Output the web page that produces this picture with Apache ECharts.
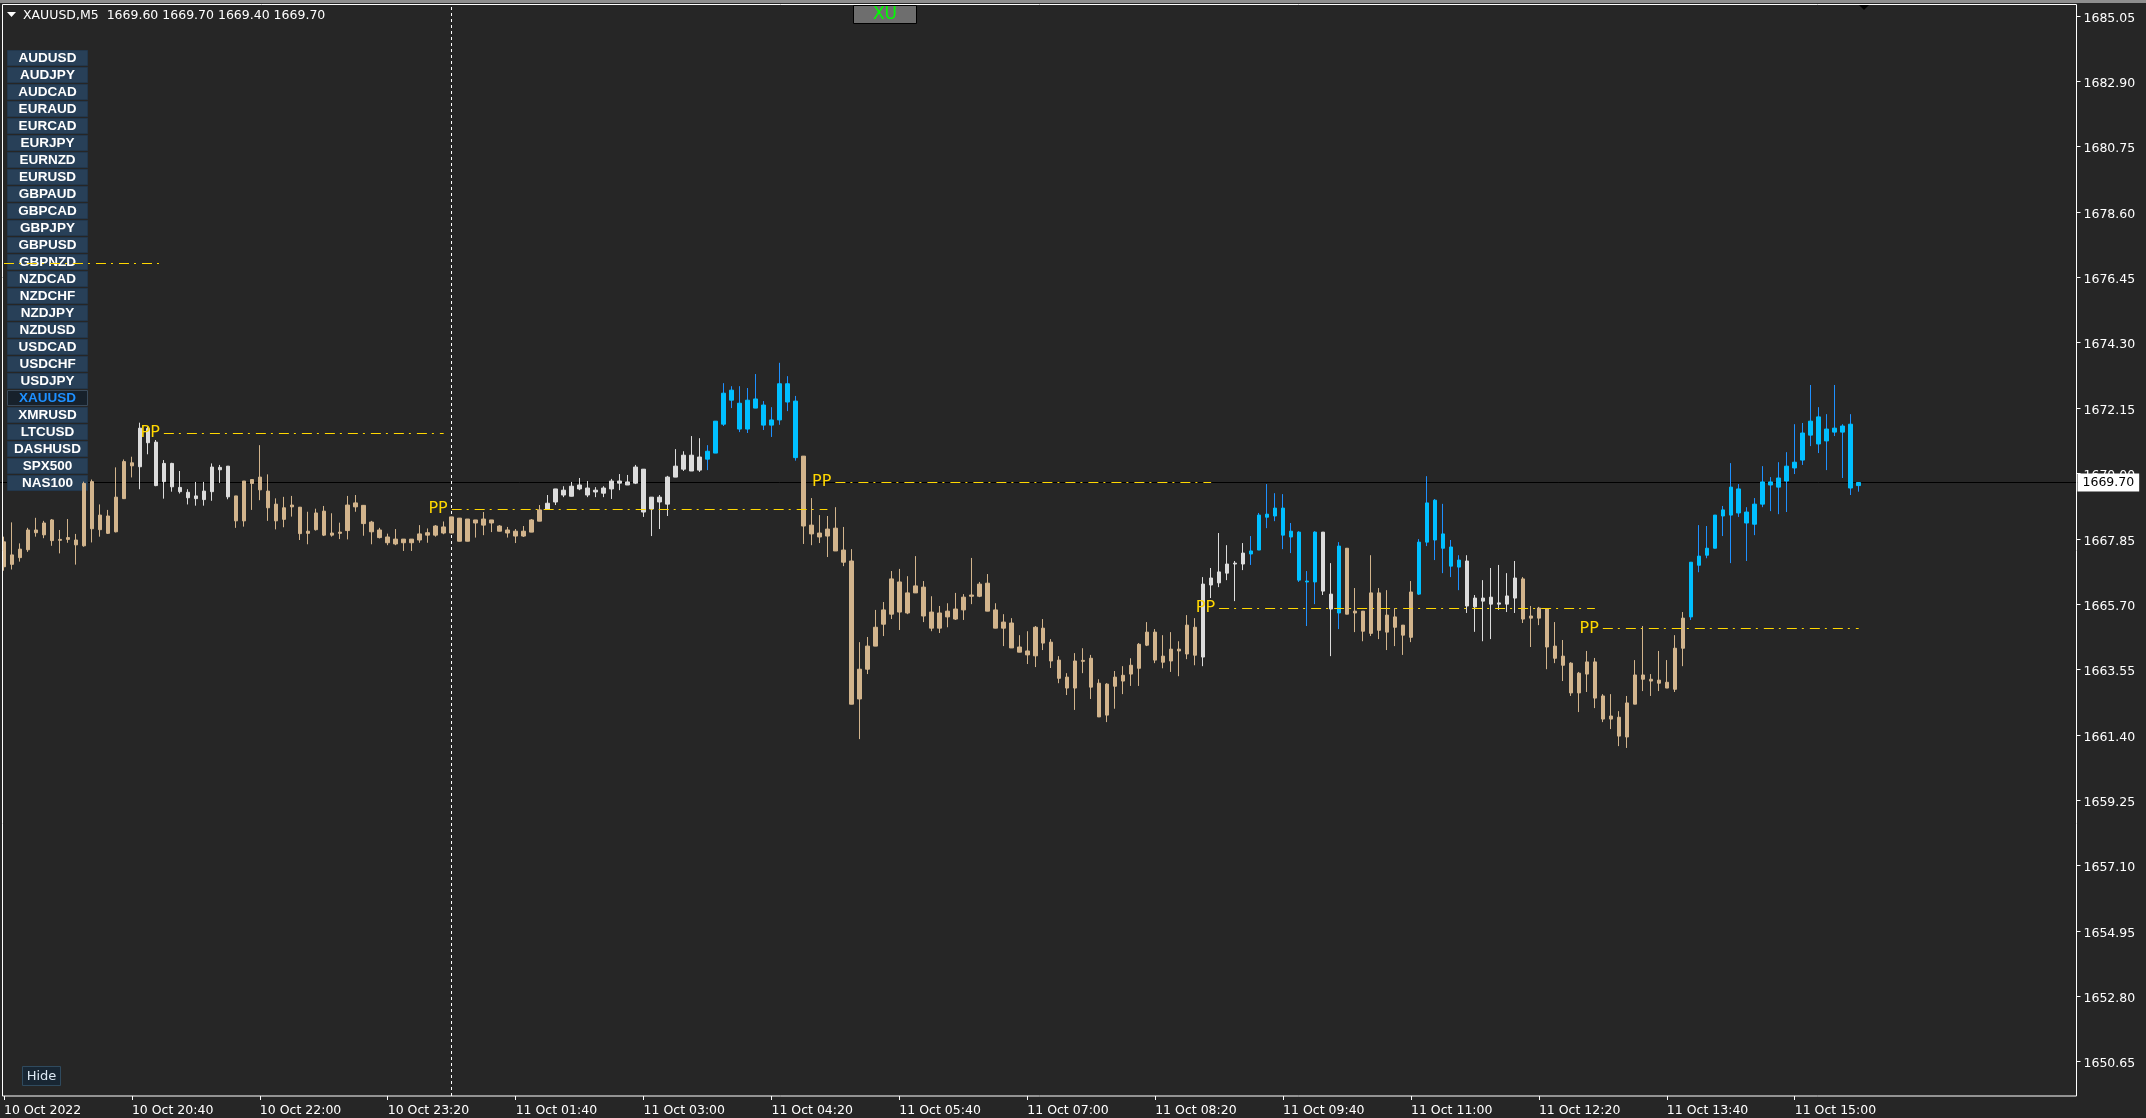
<!DOCTYPE html>
<html><head><meta charset="utf-8">
<script src="https://cdn.jsdelivr.net/npm/echarts@6/dist/echarts.min.js"></script>
<style>html,body{margin:0;padding:0;background:#262626;overflow:hidden}#c{width:2146px;height:1118px}</style>
</head><body><div id="c"></div>
<script>
const symbol = 'XAUUSD', timeframe = 'M5';
const opens = [
1667.75,1667.01,1667.23,1667.49,1668.14,1667.98,1668.47,1667.80,1667.83,1667.81,
1667.62,1669.73,1668.15,1668.60,1668.08,1669.17,1670.35,1670.22,1671.48,1671.03,
1669.73,1670.33,1669.54,1669.38,1669.17,1669.14,1669.40,1670.20,1670.24,1669.26,
1668.44,1669.67,1669.88,1669.42,1668.99,1668.49,1668.90,1668.89,1668.03,1668.15,
1668.76,1667.97,1668.03,1668.12,1668.90,1668.95,1668.40,1668.14,1667.91,1667.68,
1667.84,1667.72,1667.81,1668.05,1667.97,1668.24,1668.04,1668.53,1667.77,1668.47,
1668.30,1668.47,1668.27,1668.14,1668.10,1667.94,1668.07,1668.43,1668.83,1669.06,
1669.45,1669.25,1669.49,1669.52,1669.39,1669.35,1669.49,1669.75,1669.62,1669.68,
1670.14,1668.83,1669.22,1668.99,1669.88,1670.14,1670.60,1670.11,1670.47,1670.67,
1671.62,1672.41,1672.31,1671.46,1672.45,1672.25,1671.59,1671.76,1672.95,1672.38,
1670.57,1668.30,1668.04,1667.94,1668.20,1667.48,1667.12,1662.58,1663.56,1664.32,
1665.04,1665.37,1666.43,1665.41,1666.07,1666.26,1665.44,1664.91,1665.47,1665.21,
1665.51,1665.96,1665.96,1666.39,1665.51,1664.91,1665.08,1664.29,1664.16,1664.00,
1664.91,1664.45,1663.86,1663.30,1662.94,1663.82,1663.92,1663.10,1662.05,1663.00,
1663.17,1663.40,1663.59,1664.35,1664.78,1663.79,1663.83,1664.22,1664.06,1664.94,
1663.96,1666.33,1666.40,1666.72,1667.02,1667.02,1667.35,1667.48,1668.56,1668.60,
1668.86,1667.91,1668.07,1666.46,1666.43,1668.07,1666.03,1665.41,1667.54,1665.41,
1665.47,1664.74,1666.07,1664.78,1665.28,1665.01,1664.61,1666.03,1667.74,1669.12,
1668.01,1667.58,1666.92,1667.12,1665.61,1665.90,1665.70,1665.74,1665.70,1665.90,
1666.53,1665.24,1665.24,1665.54,1664.32,1663.99,1663.76,1662.78,1663.40,1663.80,
1662.68,1661.92,1661.98,1661.33,1662.41,1663.37,1663.23,1663.20,1663.13,1662.90,
1664.25,1665.28,1666.98,1667.31,1667.54,1668.60,1668.63,1669.49,1668.73,1668.33,
1668.99,1669.62,1669.55,1669.75,1670.18,1670.44,1671.26,1671.86,1671.07,1671.36,
1671.56,1671.62,1669.60];
const closes = [
1666.93,1667.32,1667.51,1668.14,1668.05,1668.37,1667.79,1667.83,1667.89,1667.65,
1669.67,1668.18,1668.63,1668.03,1669.22,1670.39,1670.25,1671.49,1671.01,1669.60,
1670.33,1669.56,1669.40,1669.20,1669.26,1669.42,1670.21,1670.12,1669.23,1668.44,
1669.75,1669.80,1669.46,1668.87,1668.44,1668.87,1668.96,1668.02,1668.10,1668.70,
1667.97,1668.04,1668.07,1668.96,1669.03,1668.35,1668.08,1667.89,1667.72,1667.84,
1667.72,1667.84,1668.01,1667.97,1668.27,1668.04,1668.57,1667.77,1668.50,1668.37,
1668.50,1668.37,1668.10,1668.04,1667.94,1668.10,1668.47,1668.80,1669.02,1669.49,
1669.29,1669.58,1669.62,1669.29,1669.45,1669.52,1669.75,1669.68,1669.72,1670.21,
1668.73,1669.22,1669.06,1669.88,1670.24,1670.60,1670.08,1670.54,1670.73,1671.72,
1672.64,1672.74,1671.46,1672.41,1672.15,1671.59,1671.76,1672.95,1672.35,1670.52,
1668.27,1668.01,1667.91,1668.17,1667.45,1667.08,1662.41,1663.56,1664.32,1664.94,
1665.51,1666.53,1665.44,1666.07,1666.30,1665.31,1664.91,1665.41,1665.28,1665.54,
1665.93,1666.00,1666.36,1665.47,1664.91,1665.11,1664.26,1664.12,1664.03,1664.94,
1664.42,1663.83,1663.26,1662.94,1663.83,1663.85,1662.97,1661.99,1663.07,1663.30,
1663.36,1663.69,1664.38,1664.78,1663.86,1663.99,1664.22,1664.16,1665.01,1664.02,
1666.36,1666.56,1666.76,1667.02,1667.05,1667.38,1667.45,1668.63,1668.66,1668.86,
1667.97,1668.10,1666.49,1666.43,1668.07,1666.13,1665.54,1667.61,1665.37,1665.47,
1664.81,1666.07,1664.84,1665.34,1664.94,1664.68,1666.10,1667.74,1669.03,1667.81,
1667.54,1666.95,1667.15,1665.64,1665.90,1665.80,1665.93,1665.70,1665.97,1666.56,
1665.21,1665.31,1665.57,1664.29,1663.92,1663.69,1662.78,1663.43,1663.80,1662.61,
1661.92,1662.02,1661.36,1662.45,1663.37,1663.23,1663.17,1663.10,1662.94,1664.25,
1665.24,1667.08,1667.28,1667.54,1668.63,1668.80,1669.55,1668.70,1668.37,1668.99,
1669.72,1669.72,1669.85,1670.24,1670.37,1671.33,1671.72,1670.97,1671.46,1671.49,
1671.36,1669.52,1669.70];
const lows = [
1666.80,1666.84,1667.10,1667.42,1667.92,1667.87,1667.62,1667.37,1667.72,1667.00,
1667.59,1667.73,1667.92,1668.01,1668.06,1669.16,1669.87,1669.48,1670.63,1669.58,
1669.17,1669.40,1669.34,1668.98,1668.94,1668.94,1669.10,1669.69,1669.15,1668.21,
1668.25,1668.80,1669.12,1668.44,1668.16,1668.23,1668.58,1667.81,1667.67,1668.12,
1667.94,1667.92,1667.84,1667.83,1668.74,1667.95,1667.67,1667.86,1667.64,1667.64,
1667.45,1667.45,1667.72,1667.72,1667.92,1668.00,1668.04,1667.77,1667.77,1667.89,
1667.97,1668.07,1668.10,1667.89,1667.71,1667.91,1668.07,1668.43,1668.83,1668.96,
1669.22,1669.25,1669.45,1669.22,1669.22,1669.22,1669.16,1669.45,1669.62,1669.65,
1668.57,1667.94,1668.17,1668.60,1669.88,1670.08,1670.08,1670.05,1670.11,1670.67,
1671.56,1672.15,1671.36,1671.33,1672.15,1671.43,1671.20,1671.60,1672.05,1670.42,
1667.68,1667.64,1667.71,1667.25,1667.45,1666.95,1662.41,1661.26,1663.40,1664.32,
1664.65,1665.21,1664.85,1665.37,1666.07,1665.11,1664.81,1664.75,1664.94,1665.18,
1665.18,1665.70,1665.93,1665.47,1664.91,1664.32,1664.26,1664.12,1663.73,1663.63,
1664.19,1663.60,1663.10,1662.71,1662.22,1663.43,1662.58,1661.99,1661.82,1662.26,
1662.74,1663.01,1663.01,1664.32,1663.76,1663.59,1663.47,1663.33,1663.89,1663.69,
1663.66,1665.90,1666.26,1666.49,1665.80,1666.82,1666.99,1667.48,1668.20,1668.43,
1667.51,1667.38,1666.43,1664.98,1665.70,1666.00,1663.99,1664.88,1665.37,1664.78,
1664.48,1664.65,1664.55,1664.19,1664.32,1664.03,1664.45,1666.00,1667.61,1667.15,
1666.72,1666.59,1666.16,1665.41,1664.79,1664.48,1664.55,1665.51,1665.44,1665.41,
1665.08,1664.29,1665.01,1663.56,1663.76,1663.17,1662.68,1662.15,1662.81,1662.28,
1661.82,1661.59,1661.03,1660.97,1662.41,1662.84,1662.68,1662.84,1662.94,1662.81,
1663.66,1665.18,1666.75,1667.21,1667.54,1667.94,1667.05,1668.57,1667.12,1667.97,
1668.89,1668.76,1668.66,1668.73,1669.98,1670.28,1670.90,1670.67,1670.11,1671.23,
1669.85,1669.29,1669.40];
const highs = [
1667.92,1668.39,1667.70,1668.21,1668.54,1668.44,1668.50,1668.14,1668.50,1668.01,
1669.73,1669.80,1668.98,1668.80,1670.20,1670.46,1670.55,1671.67,1671.54,1671.10,
1670.44,1670.35,1670.08,1669.48,1669.72,1669.72,1670.33,1670.28,1670.24,1669.26,
1669.75,1669.80,1670.93,1669.97,1669.18,1669.23,1669.26,1668.89,1668.74,1668.84,
1668.93,1668.69,1668.38,1669.26,1669.29,1668.95,1668.44,1668.21,1668.02,1668.17,
1667.84,1667.84,1668.30,1668.19,1668.30,1668.42,1668.57,1668.53,1668.50,1668.47,
1668.73,1668.47,1668.30,1668.24,1668.17,1668.27,1668.50,1668.96,1669.29,1669.49,
1669.58,1669.72,1669.85,1669.75,1669.55,1669.58,1669.82,1669.98,1669.95,1670.28,
1670.14,1669.22,1669.29,1669.92,1670.80,1670.73,1671.23,1671.16,1670.93,1671.72,
1672.97,1672.87,1672.87,1672.81,1673.27,1672.38,1672.18,1673.64,1673.20,1672.55,
1670.57,1669.19,1668.63,1668.60,1668.89,1668.24,1667.51,1664.45,1664.62,1665.51,
1665.77,1666.79,1666.86,1666.62,1667.28,1666.46,1665.96,1665.64,1665.73,1666.07,
1666.03,1667.22,1666.43,1666.69,1665.73,1665.37,1665.24,1664.68,1664.81,1664.98,
1665.21,1664.55,1663.99,1663.43,1664.09,1664.25,1664.03,1663.23,1663.10,1663.50,
1663.66,1663.92,1664.42,1665.11,1664.88,1664.68,1664.78,1664.48,1665.34,1665.24,
1666.59,1666.89,1668.04,1667.64,1667.12,1667.71,1667.94,1668.70,1669.65,1669.35,
1669.32,1668.37,1668.10,1666.79,1668.10,1668.07,1667.05,1667.74,1667.54,1666.23,
1665.47,1667.31,1666.23,1666.16,1665.57,1665.01,1666.46,1667.84,1669.91,1669.16,
1669.00,1667.81,1667.31,1667.31,1666.00,1666.49,1666.89,1666.99,1666.72,1667.12,
1666.59,1665.64,1665.61,1665.57,1665.11,1664.52,1663.79,1663.47,1664.16,1663.93,
1662.74,1662.74,1662.18,1662.68,1663.86,1664.98,1663.40,1664.16,1663.86,1664.68,
1665.44,1667.08,1668.30,1668.27,1668.63,1668.93,1670.34,1669.65,1668.89,1669.19,
1670.24,1669.88,1670.37,1670.70,1671.62,1671.66,1672.91,1672.18,1671.95,1672.91,
1671.62,1671.95,1669.70];
// indicator state per run of bars
const trendRuns = [['tan',17],['white',12],['tan',39],['white',20],['blue',12],['tan',50],['white',6],
  ['blue',9],['white',2],['blue',1],['tan',9],['blue',6],['white',7],['tan',21],['blue',22]];
const xTickLabels = ['10 Oct 2022','10 Oct 20:40','10 Oct 22:00','10 Oct 23:20','11 Oct 01:40','11 Oct 03:00',
  '11 Oct 04:20','11 Oct 05:40','11 Oct 07:00','11 Oct 08:20','11 Oct 09:40','11 Oct 11:00','11 Oct 12:20',
  '11 Oct 13:40','11 Oct 15:00'];
const yTickValues = [1650.65,1652.80,1654.95,1657.10,1659.25,1661.40,1663.55,1665.70,1667.85,1670.00,
  1672.15,1674.30,1676.45,1678.60,1680.75,1682.90,1685.05];
const pivotFrom  = [0, 20, 56, 104, 152, 200];
const pivotTo    = [20, 55, 103, 151, 199, 232];
const pivotValue = [1676.92, 1671.32, 1668.82, 1669.72, 1665.57, 1664.90];
const pivotLabel = [false, true, true, true, true, true];
const separatorBar = 56;
const buttonSymbols = ['AUDUSD','AUDJPY','AUDCAD','EURAUD','EURCAD','EURJPY','EURNZD','EURUSD','GBPAUD','GBPCAD',
  'GBPJPY','GBPUSD','GBPNZD','NZDCAD','NZDCHF','NZDJPY','NZDUSD','USDCAD','USDCHF','USDJPY','XAUUSD','XMRUSD',
  'LTCUSD','DASHUSD','SPX500','NAS100'];

const colorMap = {tan:{body:'#d2b48c',wick:'#d2b48c'}, white:{body:'#dcdcdc',wick:'#dcdcdc'}, blue:{body:'#00bfff',wick:'#1e90ff'}};
const barTrend = [];
trendRuns.forEach(([t,n]) => { for (let k = 0; k < n; k++) barTrend.push(t); });

const SLOTS = 260;
const pad = n => String(n).padStart(2,'0');
const categories = [];
for (let i = 0; i < SLOTS; i++) {
  let day, mins;
  if (i < separatorBar) { day = 10; mins = 19*60 + 20 + 5*i; } else { day = 11; mins = 60 + 5*(i - separatorBar); }
  categories.push(day + ' Oct ' + pad(Math.floor(mins/60)) + ':' + pad(mins % 60));
}
const isTick = i => i % 16 === 0 && i / 16 < xTickLabels.length;

const wickData = opens.map((o,i) => {
  const c = colorMap[barTrend[i]].wick;
  return {value:[o, closes[i], lows[i], highs[i]], itemStyle:{color:c,color0:c,borderColor:c,borderColor0:c}};
});
const bodyData = opens.map((o,i) => {
  const c = colorMap[barTrend[i]].body, cl = closes[i];
  return {value:[o, cl, Math.min(o,cl), Math.max(o,cl)], itemStyle:{color:c,color0:c,borderColor:c,borderColor0:c}};
});
const last = opens.length - 1;
const lastClose = closes[last];

const FONT = 'DejaVu Sans';
const graphics = [];
graphics.push({type:'rect', shape:{x:0,y:0,width:2146,height:3}, style:{fill:'#8e8e8e'}, z:20, silent:true});
graphics.push({type:'rect', shape:{x:2.5,y:4.5,width:2074,height:1091.5}, style:{fill:null,stroke:'#ffffff',lineWidth:1}, z:20, silent:true});
graphics.push({type:'polygon', shape:{points:[[7,12],[16,12],[11.5,17]]}, style:{fill:'#ffffff'}, z:20});
graphics.push({type:'text', x:23, y:16, style:{text: symbol + ',' + timeframe + '  ' + [opens[last],highs[last],lows[last],closes[last]].map(v=>v.toFixed(2)).join(' '),
  fill:'#ffffff', font:'12.5px "' + FONT + '"', verticalAlign:'middle'}, z:20});
graphics.push({type:'polygon', shape:{points:[[1859,5],[1869,5],[1864,10]]}, style:{fill:'#000000'}, z:20});
graphics.push({type:'rect', shape:{x:853.5,y:5.5,width:63,height:18}, style:{fill:'#6e6e6e',stroke:'#000000',lineWidth:1}, z:20});
graphics.push({type:'text', x:885, y:15, style:{text:'XU', fill:'#00ff00', font:'17px "' + FONT + '"', align:'center', verticalAlign:'middle'}, z:21});
buttonSymbols.forEach((s,k) => {
  const active = s === symbol;
  graphics.push({type:'rect', shape:{x:7.5,y:50.5+17*k,width:80,height:15}, style:{fill: active ? '#17212b' : '#284058', stroke: active ? '#3a4a5a' : '#22374c', lineWidth:1}, z:2});
  graphics.push({type:'text', x:47.5, y:58.5+17*k, style:{text:s, fill: active ? '#1e90ff' : '#ffffff', font:'bold 13.5px "Liberation Sans"', align:'center', verticalAlign:'middle'}, z:2});
});
graphics.push({type:'rect', shape:{x:22.5,y:1066.5,width:38,height:19}, style:{fill:'#182633',stroke:'#2f4a5e',lineWidth:1}, z:2});
graphics.push({type:'text', x:41.5, y:1076.5, style:{text:'Hide', fill:'#dde8f2', font:'13px "' + FONT + '"', align:'center', verticalAlign:'middle'}, z:2});

const chart = echarts.init(document.getElementById('c'), null, {renderer:'canvas'});
chart.setOption({
  animation:false,
  backgroundColor:'#262626',
  grid:{left:-1.5, top:5, width:8*SLOTS, height:1091},
  xAxis:{type:'category', data:categories, boundaryGap:true,
    axisLine:{show:false}, splitLine:{show:false},
    axisTick:{show:true, alignWithLabel:true, interval:isTick, length:4, lineStyle:{color:'#ffffff'}},
    axisLabel:{interval:isTick, formatter:(v,i)=> isTick(i) ? xTickLabels[i/16] : '', align:'left', color:'#ffffff',
      fontFamily:FONT, fontSize:12.5, margin:8}},
  yAxis:{type:'value', position:'right', offset:-2, min:1649.52, max:1685.41, scale:true,
    axisLine:{show:false}, splitLine:{show:false},
    axisTick:{show:true, customValues:yTickValues, length:4, lineStyle:{color:'#ffffff'}},
    axisLabel:{customValues:yTickValues, formatter:v=>v.toFixed(2), color:'#ffffff', fontFamily:FONT, fontSize:12.5, margin:7,
      verticalAlign:'top', lineHeight:5}},
  graphic:{elements:graphics},
  series:[
    {type:'candlestick', name:'wick', data:wickData, barWidth:1, z:3,
      itemStyle:{borderWidth:1},
      markLine:{symbol:['none','none'], silent:true, animation:false, z:1,
        data:[
          {yAxis:lastClose, lineStyle:{color:'#000000',width:1,type:'solid'},
           label:{show:true, position:'end', formatter:lastClose.toFixed(2), backgroundColor:'#ffffff', color:'#000000',
             fontFamily:FONT, fontSize:12.5, lineHeight:14, padding:[2,5,2,5], distance:-1}},
          {xAxis:separatorBar, lineStyle:{color:'#ffffff',width:1,type:[3,3]}, label:{show:false}}
        ]}},
    {type:'candlestick', name:'body', data:bodyData, barWidth:4, z:4,
      itemStyle:{borderWidth:1},
      markLine:{symbol:['none','none'], silent:true, animation:false, z:5,
        lineStyle:{color:'#ffd700', width:1, type:[10,5,2,6]},
        label:{show:true, position:'start', formatter:'PP', color:'#ffd700', fontFamily:FONT, fontSize:16, distance:4},
        data: pivotFrom.map((f,k) => [
          {coord:[f, pivotValue[k]], label:{show:pivotLabel[k]}},
          {coord:[pivotTo[k], pivotValue[k]]}
        ])}}
  ]
});
</script></body></html>
